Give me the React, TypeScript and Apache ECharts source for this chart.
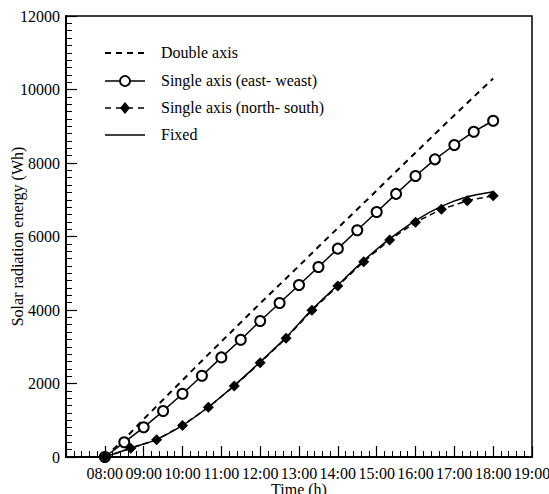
import React, { useEffect, useRef } from "react";
import * as echarts from "echarts";

const halfHourTimes = ["08:00","08:30","09:00","09:30","10:00","10:30","11:00","11:30","12:00","12:30","13:00","13:30","14:00","14:30","15:00","15:30","16:00","16:30","17:00","17:30","18:00"];
const doubleAxis = [0, 480, 1030, 1560, 2090, 2620, 3140, 3660, 4180, 4690, 5200, 5720, 6230, 6740, 7250, 7770, 8280, 8790, 9300, 9800, 10300];
const singleEW = [0, 400, 808, 1250, 1720, 2210, 2710, 3190, 3700, 4190, 4680, 5170, 5670, 6170, 6665, 7160, 7646, 8100, 8490, 8852, 9150];

const fortyMinTimes = ["08:00","08:40","09:20","10:00","10:40","11:20","12:00","12:40","13:20","14:00","14:40","15:20","16:00","16:40","17:20","18:00"];
const singleNS = [0, 236, 470, 860, 1352, 1932, 2566, 3229, 3990, 4653, 5315, 5905, 6386, 6739, 6975, 7111];
const fixed = [0, 240, 480, 860, 1360, 1945, 2585, 3255, 4010, 4680, 5345, 5935, 6435, 6820, 7080, 7220];

const xTickLabels = ["08:00","09:00","10:00","11:00","12:00","13:00","14:00","15:00","16:00","17:00","18:00","19:00"];

const seriesNames = ["Double axis", "Single axis (east- weast)", "Single axis (north- south)", "Fixed"];

const FONT = "'Liberation Serif', 'Times New Roman', serif";

function toHours(t: string): number {
  const [h, m] = t.split(":").map(Number);
  return h + m / 60;
}

function pairs(times: string[], values: number[]) {
  return times.map((t, i) => [toHours(t), values[i]]);
}

function legendGraphics() {
  const x0 = 105, x1 = 145, cx = 125, tx = 161;
  const rows = [53, 81, 108, 135];
  const els: any[] = [];
  const txt = (y: number, s: string) => ({
    type: "text", left: tx, top: y - 9,
    style: { text: s, fontFamily: FONT, fontSize: 16, fill: "#000" },
  });
  els.push({ type: "line", shape: { x1: x0, y1: rows[0], x2: x1, y2: rows[0] }, style: { stroke: "#000", lineWidth: 2, lineDash: [6, 5] } });
  els.push(txt(rows[0], seriesNames[0]));
  els.push({ type: "line", shape: { x1: x0, y1: rows[1], x2: x1, y2: rows[1] }, style: { stroke: "#000", lineWidth: 1.5 } });
  els.push({ type: "circle", shape: { cx, cy: rows[1], r: 5 }, style: { fill: "#fff", stroke: "#000", lineWidth: 1.8 } });
  els.push(txt(rows[1], seriesNames[1]));
  els.push({ type: "line", shape: { x1: x0, y1: rows[2], x2: x1, y2: rows[2] }, style: { stroke: "#000", lineWidth: 1.5, lineDash: [6, 5] } });
  els.push({ type: "polygon", shape: { points: [[cx, rows[2] - 6], [cx + 5, rows[2]], [cx, rows[2] + 6], [cx - 5, rows[2]]] }, style: { fill: "#000" } });
  els.push(txt(rows[2], seriesNames[2]));
  els.push({ type: "line", shape: { x1: x0, y1: rows[3], x2: x1, y2: rows[3] }, style: { stroke: "#000", lineWidth: 1.5 } });
  els.push(txt(rows[3], seriesNames[3]));
  return els;
}

export default function App() {
  const ref = useRef<HTMLDivElement>(null);
  useEffect(() => {
    if (!ref.current) return;
    const chart = echarts.init(ref.current, undefined, { renderer: "svg" });
    const labelSet = new Set(xTickLabels);
    chart.setOption({
      animation: false,
      backgroundColor: "#ffffff",
      textStyle: { fontFamily: FONT, color: "#000" },
      grid: {
        left: 66,
        right: 17,
        top: 16,
        bottom: 37,
        show: true,
        borderColor: "#000",
        borderWidth: 1.5,
        backgroundColor: "transparent",
        containLabel: false,
        outerBoundsMode: "none",
      },
      graphic: legendGraphics(),
      xAxis: {
        type: "value",
        min: 7,
        max: 19,
        interval: 1,
        name: "Time (h)",
        nameLocation: "middle",
        nameGap: 24,
        nameMoveOverlap: false,
        nameTextStyle: { fontFamily: FONT, fontSize: 16, color: "#000" },
        axisLine: { show: true, lineStyle: { color: "#000", width: 2 } },
        axisTick: { show: true, inside: true, length: 11, lineStyle: { color: "#000", width: 1.2 } },
        minorTick: { show: true, splitNumber: 5, length: 6, lineStyle: { color: "#000", width: 1 } },
        splitLine: { show: false },
        axisLabel: {
          fontFamily: FONT,
          fontSize: 16,
          color: "#000",
          margin: 8,
          showMaxLabel: true,
          hideOverlap: false,
          formatter: (v: number) => {
            const s = (v < 10 ? "0" : "") + Math.round(v) + ":00";
            return labelSet.has(s) ? s : "";
          },
        },
      },
      yAxis: {
        type: "value",
        min: 0,
        max: 12000,
        interval: 2000,
        name: "Solar radiation energy (Wh)",
        nameLocation: "middle",
        nameGap: 41,
        nameMoveOverlap: false,
        nameTextStyle: { fontFamily: FONT, fontSize: 16, color: "#000" },
        axisLine: { show: true, lineStyle: { color: "#000", width: 2 } },
        axisTick: { show: true, inside: true, length: 11, lineStyle: { color: "#000", width: 1.2 } },
        minorTick: { show: true, splitNumber: 10, length: 6, lineStyle: { color: "#000", width: 1 } },
        splitLine: { show: false },
        axisLabel: { fontFamily: FONT, fontSize: 16, color: "#000", margin: 6, formatter: (v: number) => String(v) },
      },
      series: [
        {
          name: seriesNames[0],
          type: "line",
          data: pairs(halfHourTimes, doubleAxis),
          symbol: "none",
          lineStyle: { color: "#000", width: 2, type: [6, 5] },
          itemStyle: { color: "#000" },
        },
        {
          name: seriesNames[1],
          type: "line",
          data: pairs(halfHourTimes, singleEW),
          symbol: "emptyCircle",
          symbolSize: 10,
          lineStyle: { color: "#000", width: 1.5 },
          itemStyle: { color: "#000", borderColor: "#000", borderWidth: 1.8 },
          z: 3,
        },
        {
          name: seriesNames[2],
          type: "line",
          data: pairs(fortyMinTimes, singleNS),
          symbol: "diamond",
          symbolSize: 11,
          lineStyle: { color: "#000", width: 1.5, type: [6, 4] },
          itemStyle: { color: "#000" },
          z: 3,
        },
        {
          name: seriesNames[3],
          type: "line",
          data: pairs(fortyMinTimes, fixed),
          symbol: "none",
          smooth: 0.3,
          lineStyle: { color: "#000", width: 1.5 },
          itemStyle: { color: "#000" },
        },
      ],
    });
    return () => chart.dispose();
  }, []);
  return <div ref={ref} style={{ width: 549, height: 494, position: "absolute", left: 0, top: 0 }} />;
}
